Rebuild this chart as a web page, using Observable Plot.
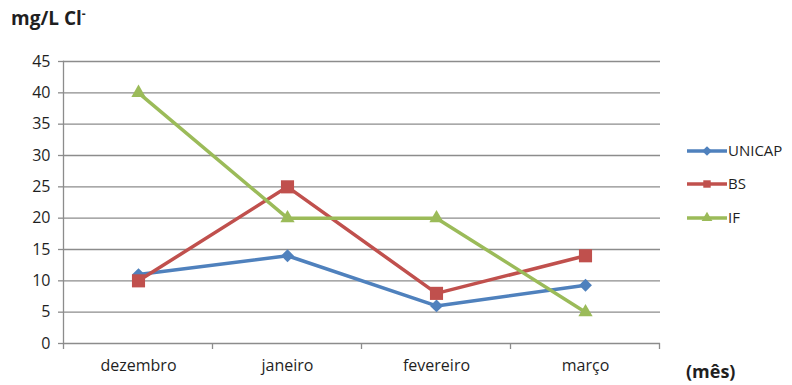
<!DOCTYPE html>
<html>
<head>
<meta charset="utf-8">
<script src="https://cdn.jsdelivr.net/npm/d3@7"></script>
<script src="https://cdn.jsdelivr.net/npm/@observablehq/plot@0.6"></script>
<style>
  body { margin: 0; background: #fff; }
  #chart { width: 792px; height: 385px; }
</style>
</head>
<body>
<div id="chart"></div>
<script>
// Chloride concentration (mg/L Cl-) per sampling site and month
const months = ["dezembro", "janeiro", "fevereiro", "março"];
const unicap = [11, 14, 6, 9.3];
const bs = [10, 25, 8, 14];
const ifSite = [40, 20, 20, 5];
const seriesNames = ["UNICAP", "BS", "IF"];
const seriesColors = ["#4F81BD", "#C0504D", "#9BBB59"];
const seriesSymbols = [d3.symbolDiamond2, d3.symbolSquare, d3.symbolTriangle];
const markerRadius = [5.8, 7.4, 5.3];
const yTicks = [0, 5, 10, 15, 20, 25, 30, 35, 40, 45];

const rows = [];
[unicap, bs, ifSite].forEach((vals, i) =>
  vals.forEach((v, j) => rows.push({serie: seriesNames[i], mes: months[j], valor: v}))
);

const font = "'Open Sans', sans-serif";
const gridColor = "#8c8c8c";
const textColor = "#1f1f1f";

// tick marks on the category axis sit between the months
function edgeTicks(index, scales) {
  const x = scales.x, y = scales.y;
  const step = x(months[1]) - x(months[0]);
  const edges = months.map(m => x(m) - step / 2).concat([x(months[months.length - 1]) + step / 2]);
  const g = d3.create("svg:g").attr("stroke", gridColor).attr("stroke-width", 1.3);
  for (const e of edges) {
    g.append("line").attr("x1", e).attr("x2", e).attr("y1", y(0)).attr("y2", y(0) + 6);
  }
  return g.node();
}

// title, axis unit and series legend
function annotations(index, scales) {
  const g = d3.create("svg:g").attr("font-family", font).attr("fill", textColor)
    .attr("text-anchor", "start");
  const t = g.append("text").attr("x", 11).attr("y", 25)
    .attr("font-size", 19).attr("font-weight", "bold");
  t.append("tspan").text("mg/L Cl");
  t.append("tspan").attr("dy", -7).attr("font-size", 12).text("-");
  g.append("text").attr("x", 686).attr("y", 378)
    .attr("font-size", 18).attr("font-weight", "bold").text("(mês)");

  const sizes = [60, 55, 50];
  seriesNames.forEach((name, i) => {
    const cy = [151, 184, 218][i];
    const c = scales.color(name);
    g.append("line").attr("x1", 687).attr("x2", 727).attr("y1", cy).attr("y2", cy)
      .attr("stroke", c).attr("stroke-width", 3.5);
    g.append("path").attr("d", d3.symbol(seriesSymbols[i], sizes[i])())
      .attr("transform", `translate(707,${cy})`).attr("fill", c);
    g.append("text").attr("x", 728).attr("y", cy).attr("dy", "0.36em")
      .attr("font-size", 15).text(name);
  });
  return g.node();
}

const chart = Plot.plot({
  width: 792,
  height: 385,
  marginLeft: 63,
  marginRight: 132,
  marginTop: 61,
  marginBottom: 42,
  style: {fontFamily: font, fontSize: "16px", color: textColor, background: "#fff"},
  x: {type: "point", domain: months, padding: 0.5},
  y: {domain: [0, 45]},
  color: {domain: seriesNames, range: seriesColors},
  marks: [
    Plot.gridY(yTicks, {stroke: gridColor, strokeOpacity: 1, strokeWidth: 1.3}),
    Plot.axisY(yTicks, {tickSize: 5, tickPadding: 8, label: null, stroke: gridColor, strokeWidth: 1.3, fill: textColor}),
    Plot.frame({anchor: "left", stroke: gridColor, strokeWidth: 1.3}),
    Plot.axisX({tickSize: 0, tickPadding: 16, label: null, fill: textColor}),
    edgeTicks,
    Plot.line(rows, {x: "mes", y: "valor", z: "serie", stroke: "serie", strokeWidth: 3.5}),
    ...seriesNames.map((name, i) =>
      Plot.dot(rows, {
        filter: d => d.serie === name,
        x: "mes", y: "valor", fill: "serie",
        symbol: seriesSymbols[i], r: markerRadius[i]
      })
    ),
    annotations
  ]
});

document.getElementById("chart").append(chart);
</script>
</body>
</html>
